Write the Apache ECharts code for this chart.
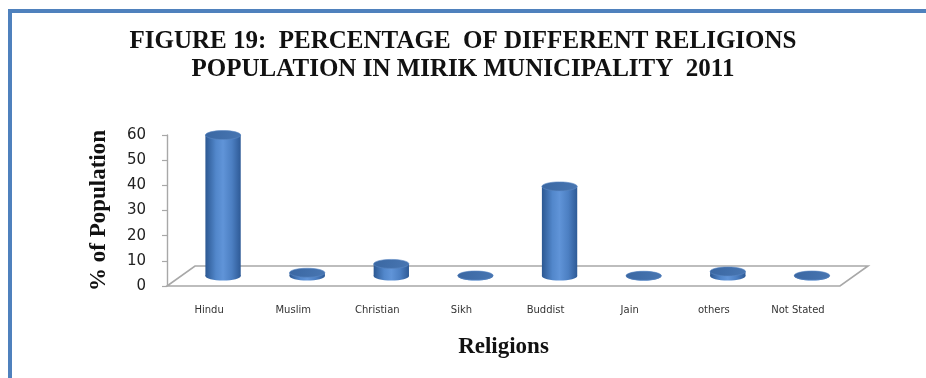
<!DOCTYPE html>
<html>
<head>
<meta charset="utf-8">
<script src="https://cdn.jsdelivr.net/npm/echarts@6/dist/echarts.min.js"></script>
<style>
  html, body { margin: 0; padding: 0; background: #ffffff; }
  #chart { width: 926px; height: 378px; }
</style>
</head>
<body>
<div id="chart"></div>
<script>
// Religion shares of Mirik Municipality population, Census 2011 (%)
const religions = ['Hindu', 'Muslim', 'Christian', 'Sikh', 'Buddist', 'Jain', 'others', 'Not Stated'];
const shares = [56.0, 1.3, 4.8, 0.2, 35.6, 0.1, 1.8, 0.2];
const yTicks = { min: 0, max: 60, step: 10 };

const titleLines = [
  'FIGURE 19:  PERCENTAGE  OF DIFFERENT RELIGIONS',
  'POPULATION IN MIRIK MUNICIPALITY  2011'
];

// depth of the 3D floor (horizontal / vertical shift of the back edge)
const DEPTH_X = 28, DEPTH_Y = -20;

const chart = echarts.init(document.getElementById('chart'), null, { renderer: 'canvas' });

function floorItem(params, api) {
  const cs = params.coordSys;
  const x0 = cs.x, x1 = cs.x + cs.width, y0 = cs.y + cs.height;
  const pts = [[x0, y0], [x1, y0], [x1 + DEPTH_X, y0 + DEPTH_Y], [x0 + DEPTH_X, y0 + DEPTH_Y]];
  return {
    type: 'polygon',
    shape: { points: pts },
    style: { fill: '#ffffff', stroke: '#a8a8a8', lineWidth: 1.6 }
  };
}

function cylinderItem(params, api) {
  const i = api.value(0), v = api.value(1);
  const top = api.coord([i, v]);
  const base = api.coord([i, 0]);
  const band = api.size([1, 0])[0];
  const rx = band * 0.21, ry = 4.5;
  const cx = top[0] + DEPTH_X / 2;
  const ty = top[1] + DEPTH_Y / 2;
  const by = base[1] + DEPTH_Y / 2;
  const bodyGrad = new echarts.graphic.LinearGradient(0, 0, 1, 0, [
    { offset: 0, color: '#2c5892' },
    { offset: 0.3, color: '#5287cb' },
    { offset: 0.5, color: '#6094d8' },
    { offset: 0.75, color: '#4c7fc2' },
    { offset: 1, color: '#2e5a96' }
  ]);
  const topGrad = new echarts.graphic.LinearGradient(0, 0, 1, 1, [
    { offset: 0, color: '#3a67a2' },
    { offset: 1, color: '#4876b2' }
  ]);
  return {
    type: 'group',
    children: [
      { type: 'ellipse', shape: { cx: cx, cy: by, rx: rx, ry: ry }, style: { fill: bodyGrad } },
      { type: 'rect', shape: { x: cx - rx, y: ty, width: rx * 2, height: Math.max(by - ty, 0) }, style: { fill: bodyGrad } },
      { type: 'ellipse', shape: { cx: cx, cy: ty, rx: rx, ry: ry }, style: { fill: topGrad, stroke: '#5a88c4', lineWidth: 0.6 } }
    ]
  };
}

const option = {
  backgroundColor: '#ffffff',
  animation: false,
  title: {
    text: titleLines.join('\n'),
    left: 'center',
    top: 23,
    textStyle: {
      fontFamily: 'Liberation Serif',
      fontWeight: 'bold',
      fontSize: 25,
      lineHeight: 28,
      color: '#111111'
    }
  },
  graphic: [
    {
      type: 'rect',
      shape: { x: 10, y: 11, width: 1000, height: 1000 },
      style: { fill: 'none', stroke: '#4f81bd', lineWidth: 4 },
      silent: true,
      z: 10
    }
  ],
  grid: { left: 167, right: 86, top: 135, bottom: 92, containLabel: false },
  xAxis: {
    type: 'category',
    data: religions,
    name: 'Religions',
    nameLocation: 'middle',
    nameGap: 50,
    nameTextStyle: { fontFamily: 'Liberation Serif', fontWeight: 'bold', fontSize: 23, color: '#111111' },
    axisLine: { show: false },
    axisTick: { show: false },
    axisLabel: { margin: 19, fontFamily: 'DejaVu Sans', fontSize: 10, color: '#333333' }
  },
  yAxis: {
    type: 'value',
    min: yTicks.min,
    max: yTicks.max,
    interval: yTicks.step,
    name: '% of Population',
    nameLocation: 'middle',
    nameRotate: 90,
    nameGap: 56,
    nameTextStyle: { fontFamily: 'Liberation Serif', fontWeight: 'bold', fontSize: 23, color: '#111111' },
    axisLine: { show: true, lineStyle: { color: '#a8a8a8', width: 1.4 } },
    axisTick: { show: true, length: 5, lineStyle: { color: '#a8a8a8', width: 1.2 } },
    axisLabel: { margin: 21, fontFamily: 'DejaVu Sans', fontSize: 15, color: '#222222' },
    splitLine: { show: false }
  },
  series: [
    {
      type: 'custom',
      name: 'floor',
      data: [[0, 0]],
      renderItem: floorItem,
      silent: true,
      z: 1
    },
    {
      type: 'custom',
      name: 'share',
      data: shares.map((v, i) => [i, v]),
      encode: { x: 0, y: 1 },
      renderItem: cylinderItem,
      clip: false,
      z: 3
    }
  ]
};

chart.setOption(option);
</script>
</body>
</html>
